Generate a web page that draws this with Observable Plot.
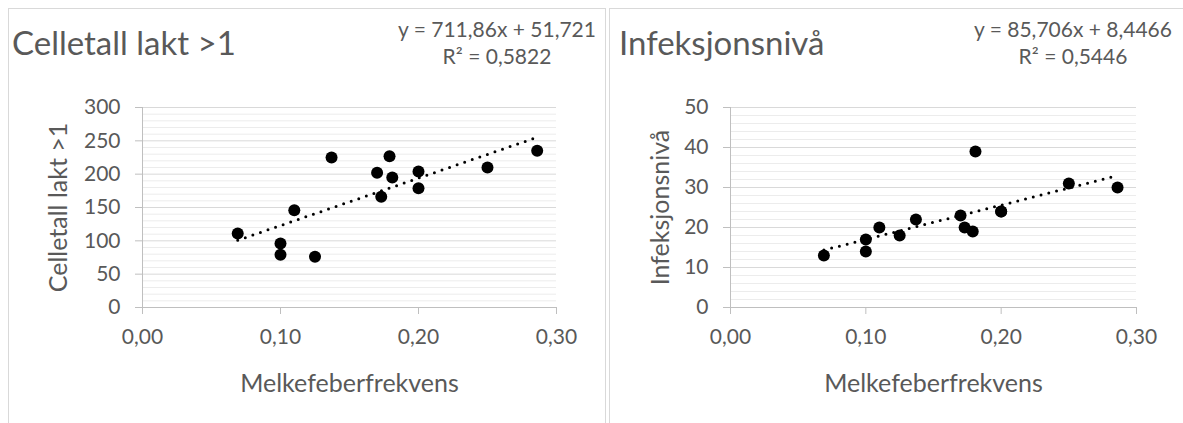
<!DOCTYPE html>
<html>
<head>
<meta charset="utf-8">
<script src="https://cdn.jsdelivr.net/npm/d3@7"></script>
<script src="https://cdn.jsdelivr.net/npm/@observablehq/plot@0.6"></script>
<style>
  body { margin: 0; background: #fff; font-family: Lato, "Open Sans", sans-serif; color: #595959; }
  #wrap { position: relative; width: 1183px; height: 423px; overflow: hidden; }
  .panel { position: absolute; top: 8px; height: 440px; border: 1px solid #d9d9d9; box-sizing: border-box; background: #fff; }
  .title { position: absolute; font-size: 33px; line-height: 1; white-space: nowrap; }
  .eq { position: absolute; width: 300px; font-size: 21px; line-height: 27px; text-align: center; white-space: nowrap; }
  .chart { position: absolute; top: 0; }
</style>
</head>
<body>
<div id="wrap"></div>
<script>
// Melkefeberfrekvens per besetning (x) against the two herd measures
const melkefeber = [0.069, 0.100, 0.100, 0.110, 0.125, 0.137, 0.170, 0.173, 0.179, 0.181, 0.200, 0.200, 0.250, 0.286];
const celletall  = [111, 96, 79, 146, 76, 225, 202, 166, 227, 195, 204, 179, 210, 235];
const infeksjon  = [13, 17, 14, 20, 18, 22, 23, 20, 19, 39, 24, 24, 31, 30];

// Linear trendlines (least squares)
const celletallTrend = {slope: 711.86, intercept: 51.721, r2: 0.5822};
const infeksjonTrend = {slope: 85.706, intercept: 8.4466, r2: 0.5446};

// Titles and axis labels
const titles = ["Celletall lakt >1", "Infeksjonsnivå"];
const xLabel = "Melkefeberfrekvens";

// Tick values
const xTicks = [0, 0.1, 0.2, 0.3];
const celletallTicks = [0, 50, 100, 150, 200, 250, 300];
const infeksjonTicks = [0, 10, 20, 30, 40, 50];

const comma = v => String(v).replace(".", ",");
const fmtX = d => d.toFixed(2).replace(".", ",");

function scatter({ys, trend, yTicks, minorStep, yLabel, width, marginLeft, marginRight, yLabelDx}) {
  const pts = melkefeber.map((x, i) => ({x, y: ys[i]}));
  const yMax = yTicks[yTicks.length - 1];
  const minor = d3.range(0, yMax, minorStep).filter(v => !yTicks.includes(v));
  const trendPts = d3.extent(melkefeber).map(x => ({x, y: trend.slope * x + trend.intercept}));
  return Plot.plot({
    width, height: 423,
    marginLeft, marginRight, marginTop: 107, marginBottom: 116,
    style: {fontFamily: "Lato, 'Open Sans', sans-serif", fontSize: "21px", color: "#595959", background: "transparent", overflow: "visible"},
    x: {domain: [0, 0.3]},
    y: {domain: [0, yMax]},
    marks: [
      Plot.ruleY(minor, {stroke: "#ececec", strokeWidth: 1}),
      Plot.ruleY(yTicks.filter(v => v > 0), {stroke: "#d9d9d9", strokeWidth: 1}),
      Plot.ruleX([0], {stroke: "#bfbfbf"}),
      Plot.ruleY([0], {stroke: "#bfbfbf"}),
      Plot.axisX({ticks: xTicks, tickFormat: fmtX, tickSize: 7, tickPadding: 15, stroke: "#bfbfbf", label: null}),
      Plot.axisY({ticks: yTicks, tickSize: 7, tickPadding: 15, stroke: "#bfbfbf", label: null}),
      Plot.text([xLabel], {frameAnchor: "bottom", textAnchor: "middle", lineAnchor: "middle", dy: 76, fontSize: 25, fill: "#595959"}),
      Plot.text([yLabel], {frameAnchor: "left", textAnchor: "middle", lineAnchor: "middle", rotate: -90, dx: yLabelDx, fontSize: 25, fill: "#595959"}),
      Plot.dot(pts, {x: "x", y: "y", r: 6, fill: "black"}),
      Plot.line(trendPts, {x: "x", y: "y", stroke: "black", strokeWidth: 3, strokeDasharray: "0 8", strokeLinecap: "round"})
    ]
  });
}

const wrap = document.getElementById("wrap");

function addPanel(left, width) {
  const p = document.createElement("div");
  p.className = "panel";
  p.style.left = left + "px";
  p.style.width = width + "px";
  wrap.appendChild(p);
}
function addText(cls, html, left, top) {
  const d = document.createElement("div");
  d.className = cls;
  d.innerHTML = html;
  d.style.left = left + "px";
  d.style.top = top + "px";
  wrap.appendChild(d);
}
function addChart(svg, left) {
  svg.classList.add("chart");
  svg.style.left = left + "px";
  wrap.appendChild(svg);
}

addPanel(8, 598);
addPanel(609, 600);

addChart(scatter({
  ys: celletall, trend: celletallTrend, yTicks: celletallTicks, minorStep: 10,
  yLabel: titles[0], width: 600, marginLeft: 142, marginRight: 44, yLabelDx: -84
}), 0);
addChart(scatter({
  ys: infeksjon, trend: infeksjonTrend, yTicks: infeksjonTicks, minorStep: 2,
  yLabel: titles[1], width: 583, marginLeft: 130, marginRight: 47, yLabelDx: -70
}), 600);

addText("title", titles[0], 12, 26);
addText("title", titles[1], 619, 26);

const eqHtml = t => `y = ${comma(t.slope)}x + ${comma(t.intercept)}<br>R² = ${comma(t.r2)}`;
addText("eq", eqHtml(celletallTrend), 347, 15);
addText("eq", eqHtml(infeksjonTrend), 923, 15);
</script>
</body>
</html>
